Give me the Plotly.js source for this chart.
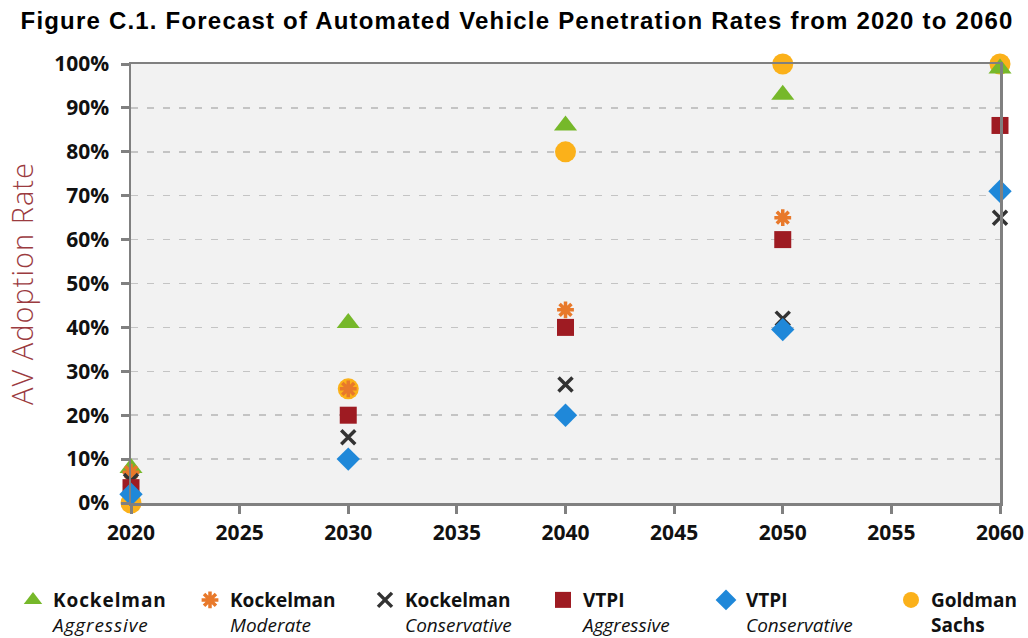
<!DOCTYPE html>
<html>
<head>
<meta charset="utf-8">
<script src="https://cdn.plot.ly/plotly-3.0.1.min.js"></script>
<style>
html,body{margin:0;padding:0;background:#fff;}
#chart{width:1028px;height:638px;}
#chart .gtitle{letter-spacing:1.2px;}
#chart .ytitle{letter-spacing:1px;}
#chart .legendtext{letter-spacing:0.9px;}
</style>
</head>
<body>
<div id="chart"></div>
<script>
const years = [2020, 2030, 2040, 2050, 2060];
const kockelmanAggressive   = [8, 41, 86, 93, 99];
const kockelmanModerate     = [7, 26, 44, 65];
const kockelmanConservative = [5, 15, 27, 42, 65];
const vtpiAggressive        = [3.5, 20, 40, 60, 86];
const vtpiConservative      = [2, 10, 20, 39.5, 71];
const goldmanSachs          = [0, 26, 80, 100, 100];
const yTicks = [0, 10, 20, 30, 40, 50, 60, 70, 80, 90, 100];
const xTicks = [2020, 2025, 2030, 2035, 2040, 2045, 2050, 2055, 2060];
const seriesNames = [
  '<b>Kockelman</b><br><i>Aggressive</i>',
  '<b>Kockelman</b><br><i>Moderate</i>',
  '<b>Kockelman</b><br><i>Conservative</i>',
  '<b>VTPI</b><br><i>Aggressive</i>',
  '<b>VTPI</b><br><i>Conservative</i>',
  '<b>Goldman</b><br><b>Sachs</b>'
];

const traces = [
  {name: seriesNames[5], x: years, y: goldmanSachs, legend: 'legend6',
   marker: {symbol: 'circle', size: 21, color: '#fbb11a'}},
  {name: seriesNames[0], x: years, y: kockelmanAggressive, legend: 'legend',
   marker: {symbol: 'triangle-up', size: 20, color: '#76b82a'}},
  {name: seriesNames[1], x: years.slice(0, kockelmanModerate.length), y: kockelmanModerate, legend: 'legend2',
   marker: {symbol: 'asterisk-open', size: 14, color: '#e8792b', line: {color: '#e8792b', width: 3.5}}},
  {name: seriesNames[2], x: years, y: kockelmanConservative, legend: 'legend3',
   marker: {symbol: 'x-thin-open', size: 14, color: '#333333', line: {color: '#333333', width: 3.5}}},
  {name: seriesNames[3], x: years, y: vtpiAggressive, legend: 'legend4',
   marker: {symbol: 'square', size: 17, color: '#9e1b22'}},
  {name: seriesNames[4], x: years, y: vtpiConservative, legend: 'legend5',
   marker: {symbol: 'diamond', size: 18, color: '#1f88d9'}}
].map(t => Object.assign({type: 'scatter', mode: 'markers', cliponaxis: false}, t));

function leg(px) {
  return {
    orientation: 'h', xref: 'container', yref: 'container',
    x: px / 1028, xanchor: 'left', y: 0.0893, yanchor: 'top', valign: 'top',
    font: {family: 'Open Sans, sans-serif', size: 19, color: '#111111'},
    bgcolor: 'rgba(0,0,0,0)', borderwidth: 0
  };
}

const layout = {
  width: 1028, height: 638,
  margin: {l: 131, r: 28, t: 64, b: 135},
  paper_bgcolor: '#ffffff',
  plot_bgcolor: '#f2f2f2',
  font: {family: 'Open Sans, sans-serif', color: '#111111'},
  title: {
    text: '<b>Figure C.1. Forecast of Automated Vehicle Penetration Rates from 2020 to 2060</b>',
    font: {family: 'Liberation Sans, Arial, sans-serif', size: 24, color: '#000000'},
    x: 0.503, xanchor: 'center', y: 0.968, yanchor: 'middle', xref: 'container', yref: 'container'
  },
  xaxis: {
    range: [2020, 2060], tickvals: xTicks, ticktext: xTicks.map(String),
    showgrid: false, zeroline: false,
    showline: true, linecolor: '#808080', linewidth: 2.5, mirror: true,
    ticks: 'outside', ticklen: 8, tickwidth: 3, tickcolor: '#808080', ticklabelstandoff: 1,
    tickfont: {family: 'Open Sans, sans-serif', size: 21, weight: 700, color: '#111111'}
  },
  yaxis: {
    range: [0, 100], tickvals: yTicks, ticktext: yTicks.map(v => v + '%'),
    showgrid: true, gridcolor: '#c4c4c4', gridwidth: 1.5, griddash: '7px,9px',
    zeroline: false,
    showline: true, linecolor: '#808080', linewidth: 2.5, mirror: true,
    ticks: 'outside', ticklen: 8, tickwidth: 3, tickcolor: '#808080', ticklabelstandoff: 7,
    tickfont: {family: 'Open Sans, sans-serif', size: 21, weight: 700, color: '#111111'},
    title: {text: 'AV Adoption Rate', standoff: 12,
            font: {family: 'Open Sans, sans-serif', size: 29, weight: 300, color: '#9b3b3f'}}
  },
  showlegend: true,
  legend: leg(13), legend2: leg(190), legend3: leg(365),
  legend4: leg(543), legend5: leg(706), legend6: leg(891)
};

Plotly.newPlot('chart', traces, layout, {displayModeBar: false, staticPlot: true});
</script>
</body>
</html>
